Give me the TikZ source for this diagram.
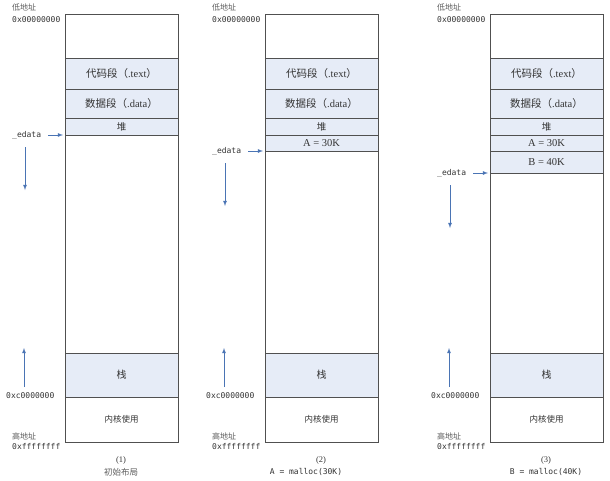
\documentclass[tikz,border=0pt]{standalone}
\usepackage{fontspec}
\setmainfont{Liberation Serif}
\setmonofont{DejaVu Sans Mono}
\newfontfamily\cjk{Noto Sans CJK SC}
\usetikzlibrary{positioning}

\definecolor{segfill}{HTML}{E6ECF7}
\definecolor{arrowblue}{HTML}{4A74B4}
\definecolor{boxline}{HTML}{505050}
\definecolor{txt}{HTML}{333333}

\tikzset{
	seg/.style={draw=boxline, line width=0.9pt, fill=segfill, minimum width=113pt,
		inner sep=0pt, outer sep=0pt, anchor=north west, text=txt,
		font=\fontsize{10.5}{11}\selectfont},
	addr/.style={font=\ttfamily\fontsize{8}{9}\selectfont, anchor=west, inner sep=0pt, text=txt},
	cjklabel/.style={font=\cjk\fontsize{8}{9}\selectfont, anchor=west, inner sep=0pt, text=txt!80},
	caption/.style={inner sep=0pt, text=txt, font=\fontsize{8.5}{9}\selectfont},
	bluearrow/.style={->, >=latex, arrowblue, line width=0.8pt},
}

\begin{document}
\begin{tikzpicture}[x=1pt,y=-1pt]
\useasboundingbox (0,0) rectangle (610,480);
\foreach \p/\x/\e in {1/65/135,2/265/151,3/490/173}{
	\draw[boxline, line width=0.9pt] (\x,442) -- (\x,14) -- (\x+113,14) -- (\x+113,442);
	\draw[boxline, line width=0.9pt, dashed] (\x,442) -- (\x+113,442);
	\node[seg, minimum height=31pt] (text\p) at (\x,58) {{\cjk 代码段（}.text{\cjk ）}};
	\node[seg, minimum height=29pt] (data\p) at (\x,89) {{\cjk 数据段（}.data{\cjk ）}};
	\node[seg, minimum height=17pt, font=\cjk\fontsize{9.5}{10}\selectfont] (heap\p) at (\x,118) {堆};
	\node[seg, minimum height=44pt, font=\cjk\fontsize{10}{11}\selectfont] (stack\p) at (\x,353) {栈};
	\node[seg, minimum height=45pt, fill=none, font=\cjk\fontsize{8.5}{9}\selectfont] (kernel\p) at (\x,397) {内核使用};
	% address labels
	\node[cjklabel] (low\p) at (\x-53,7) {低地址};
	\node[addr] (lowaddr\p) at (\x-53,20) {0x00000000};
	\node[cjklabel] (high\p) at (\x-53,436) {高地址};
	\node[addr] (highaddr\p) at (\x-53,447) {0xffffffff};
	\node[addr] (kaddr\p) at (\x-59,396) {0xc0000000};
	% program break
	\node[addr] (edata\p) at (\x-53,\e) {\_edata};
	\coordinate (brk\p) at (\x,\e);
	\draw[bluearrow, shorten >=2pt] ([xshift=7pt]edata\p.east) -- (brk\p);
	\coordinate (downa\p) at (\x-40,\e+12);
	\coordinate (downb\p) at (\x-40,\e+55);
	\draw[bluearrow] (downa\p) -- (downb\p);
	\coordinate (upa\p) at (\x-41,387);
	\coordinate (upb\p) at (\x-41,348);
	\draw[bluearrow] (upa\p) -- (upb\p);
	}
\node[seg, minimum height=16pt] (alloca2) at (265,135) {A = 30K};
\node[seg, minimum height=16pt] (alloca3) at (490,135) {A = 30K};
\node[seg, minimum height=22pt] (allocb3) at (490,151) {B = 40K};
% captions
\node[caption] (cap1) at (121,460) {(1)};
\node[caption, font=\cjk\fontsize{8.5}{9}\selectfont, text=txt!80] (desc1) at (121,472) {初始布局};
\node[caption] (cap2) at (321,460) {(2)};
\node[caption, font=\ttfamily\fontsize{8}{9}\selectfont] (desc2) at (306,472) {A = malloc(30K)};
\node[caption] (cap3) at (546,460) {(3)};
\node[caption, font=\ttfamily\fontsize{8}{9}\selectfont] (desc3) at (546,472) {B = malloc(40K)};
\end{tikzpicture}
\end{document}
